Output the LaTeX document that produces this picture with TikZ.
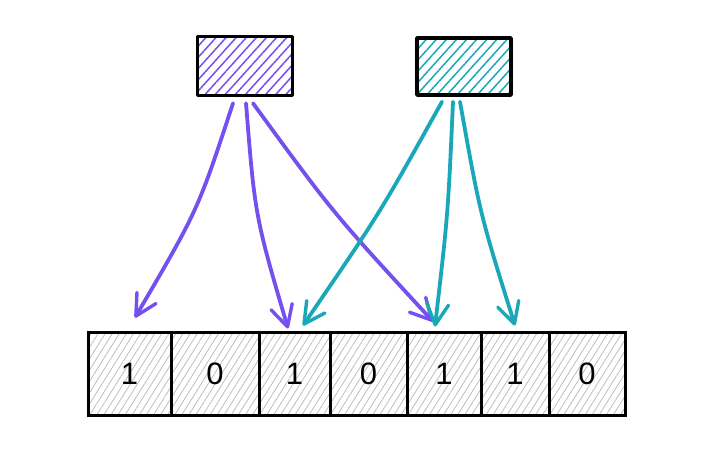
\documentclass[tikz,border=0pt]{standalone}
\usepackage{fontspec}
\setmainfont{Liberation Sans}
\usetikzlibrary{arrows.meta,patterns.meta,calc}
\definecolor{vio}{HTML}{7450EE}
\definecolor{cya}{HTML}{1AA8B8}
\definecolor{hat}{HTML}{BDBDBD}
\tikzset{
  srcbox/.style={draw=black,line width=3.4pt,inner sep=0pt,line join=round,
    pattern={Lines[angle=48,distance=7.5pt,line width=1.5pt]}},
  cell/.style={draw=black,line width=3pt,minimum height=83pt,inner sep=0pt,
    pattern={Lines[angle=58,distance=6pt,line width=0.8pt]},pattern color=hat,
    font=\fontsize{31}{33}\selectfont},
  link/.style={line width=3.8pt,line cap=round,
    -{Straight Barb[length=21pt,width=22pt,line width=3.4pt,round]}},
}
\begin{document}
\begin{tikzpicture}[x=1pt,y=-1pt]
\useasboundingbox (0,0) rectangle (702,468);
% source boxes
\node[srcbox,pattern color=vio,minimum width=95pt,minimum height=59pt] (A) at (245,66) {};
\node[srcbox,pattern color=cya,minimum width=94pt,minimum height=57pt] (B) at (464,66.5) {};
% cells
\node[cell,minimum width=83pt] (c1) at (129.5,373.5) {1};
\node[cell,minimum width=88pt] (c2) at (215,373.5) {0};
\node[cell,minimum width=71pt] (c3) at (294.5,373.5) {1};
\node[cell,minimum width=77pt] (c4) at (368.5,373.5) {0};
\node[cell,minimum width=74pt] (c5) at (444,373.5) {1};
\node[cell,minimum width=68pt] (c6) at (515,373.5) {1};
\node[cell,minimum width=76pt] (c7) at (587,373.5) {0};
% purple arrows
\draw[link,vio] ($(A.south)+(-12,7)$) .. controls (198,210) .. ($(c1.north)+(5.5,-14)$);
\draw[link,vio] ($(A.south)+(1,7)$) .. controls (255,216) .. ($(c3.north)+(-6.5,-2)$);
\draw[link,vio] ($(A.south)+(8,7)$) .. controls (333,213) .. ($(c5.north)+(-11,-9)$);
% teal arrows
\draw[link,cya] ($(B.south)+(-22,5)$) .. controls (380,213) .. ($(c3.north)+(8.5,-5)$);
\draw[link,cya] ($(B.south)+(-11,5)$) .. controls (448,214) .. ($(c5.north)+(-9,-4)$);
\draw[link,cya] ($(B.south)+(-4,5)$) .. controls (480,214) .. ($(c6.north)+(0,-5)$);
\end{tikzpicture}
\end{document}
